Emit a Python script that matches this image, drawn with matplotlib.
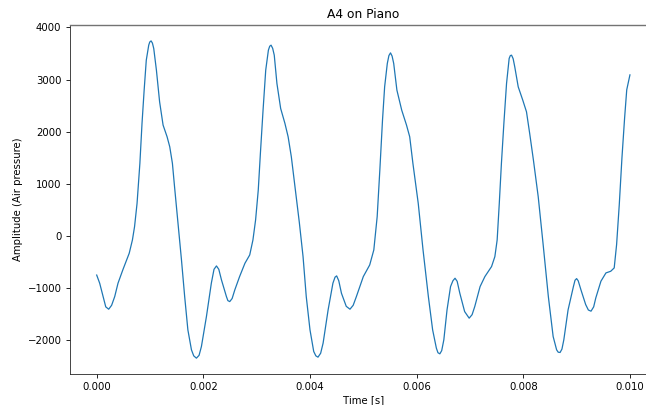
import numpy as np
import matplotlib
matplotlib.use('Agg')
import matplotlib.pyplot as plt

# ────────────────────────────────
# Samples of the recorded note: time in ms, amplitude

time_ms = [0.0, 0.056, 0.12, 0.17, 0.225, 0.28, 0.338, 0.40, 0.49, 0.61,
           0.67, 0.71, 0.757, 0.81, 0.85, 0.89, 0.93, 0.976, 0.995, 1.02,
           1.045, 1.07, 1.12, 1.18, 1.245, 1.32, 1.37, 1.42, 1.46, 1.525,
           1.59, 1.65, 1.71, 1.777, 1.82, 1.87, 1.92, 1.964, 2.058, 2.15,
           2.20, 2.246, 2.29, 2.34, 2.433, 2.46, 2.495, 2.54, 2.59, 2.68,
           2.78, 2.87, 2.93, 2.98, 3.03, 3.07, 3.12, 3.17, 3.22, 3.245,
           3.27, 3.30, 3.33, 3.38, 3.45, 3.53, 3.59, 3.65, 3.71, 3.80,
           3.87, 3.93, 4.0, 4.07, 4.11, 4.15, 4.20, 4.246, 4.34, 4.43,
           4.47, 4.50, 4.54, 4.59, 4.68, 4.75, 4.81, 4.87, 5.0, 5.12,
           5.197, 5.26, 5.31, 5.36, 5.40, 5.45, 5.48, 5.51, 5.54, 5.57,
           5.63, 5.72, 5.81, 5.87, 5.93, 6.03, 6.12, 6.22, 6.30, 6.37,
           6.40, 6.435, 6.47, 6.51, 6.57, 6.636, 6.68, 6.72, 6.76, 6.81,
           6.90, 6.985, 7.04, 7.09, 7.19, 7.28, 7.405, 7.467, 7.51, 7.55,
           7.59, 7.636, 7.686, 7.735, 7.757, 7.78, 7.81, 7.84, 7.905, 7.99,
           8.06, 8.12, 8.19, 8.28, 8.37, 8.47, 8.56, 8.625, 8.655, 8.69,
           8.725, 8.76, 8.84, 8.94, 8.97, 9.0, 9.03, 9.08, 9.17, 9.22,
           9.27, 9.32, 9.36, 9.456, 9.55, 9.64, 9.705, 9.75, 9.80, 9.85,
           9.90, 9.94, 10.0]

amplitude = [-750, -906, -1163, -1360, -1405, -1330, -1163, -906, -651, -332,
             -77, 178, 626, 1393, 2159, 2797, 3372, 3660, 3720, 3742,
             3700, 3596, 3181, 2573, 2127, 1903, 1711, 1393, 945, 243,
             -460, -1163, -1801, -2184, -2300, -2344, -2290, -2121, -1546, -906,
             -640, -575, -640, -843, -1163, -1240, -1259, -1200, -1035, -779,
             -524, -364, -77, 307, 881, 1584, 2414, 3181, 3564, 3640,
             3660, 3600, 3468, 2925, 2446, 2159, 1903, 1520, 1010, 260,
             -396, -1163, -1801, -2216, -2300, -2325, -2250, -2056, -1418, -906,
             -790, -766, -860, -1099, -1350, -1405, -1330, -1163, -779, -556,
             -268, 370, 1265, 2223, 2861, 3309, 3460, 3512, 3450, 3309,
             2797, 2414, 2127, 1903, 1393, 626, -268, -1163, -1801, -2152,
             -2240, -2261, -2200, -1993, -1418, -971, -860, -811, -870, -1099,
             -1450, -1577, -1510, -1354, -971, -779, -587, -396, -77, 626,
             1393, 2159, 2925, 3405, 3460, 3468, 3400, 3245, 2861, 2606,
             2382, 1967, 1456, 753, -140, -1163, -1929, -2184, -2230, -2235,
             -2170, -1993, -1418, -971, -850, -818, -860, -1029, -1316, -1420,
             -1443, -1360, -1188, -868, -709, -677, -613, -166, 600, 1494,
             2261, 2803, 3090]

time_s = np.array(time_ms) / 1000.0

# ────────────────────────────────
# Graphics settings

plt.rcParams['font.family'] = 'DejaVu Sans'
plt.rcParams['font.size'] = 7.3
plt.rcParams['axes.titlesize'] = 8.8
plt.rcParams['axes.linewidth'] = 0.6
plt.rcParams['xtick.major.width'] = 0.6
plt.rcParams['ytick.major.width'] = 0.6
plt.rcParams['xtick.major.size'] = 2.6
plt.rcParams['ytick.major.size'] = 2.6

figure = plt.figure(figsize=(6.46, 4.05), dpi=100)
axes = figure.add_axes([0.1084, 0.0765, 0.908, 0.8617])
axes.plot(time_s, amplitude, color='#1f77b4', linewidth=0.9)

axes.set_title('A4 on Piano', pad=5)
axes.set_xlabel('Time [s]', labelpad=2)
axes.set_ylabel('Amplitude (Air pressure)', labelpad=3)
axes.set_xticks([0.0, 0.002, 0.004, 0.006, 0.008, 0.010])
axes.set_xticklabels(['0.000', '0.002', '0.004', '0.006', '0.008', '0.010'])
axes.set_yticks([-2000, -1000, 0, 1000, 2000, 3000, 4000])

axes.spines['top'].set_color('0.45')
axes.spines['top'].set_linewidth(1.0)
axes.spines['right'].set_visible(False)
axes.spines['left'].set_color('0.15')
axes.spines['bottom'].set_color('0.15')

figure.savefig('out.png', dpi=100)
